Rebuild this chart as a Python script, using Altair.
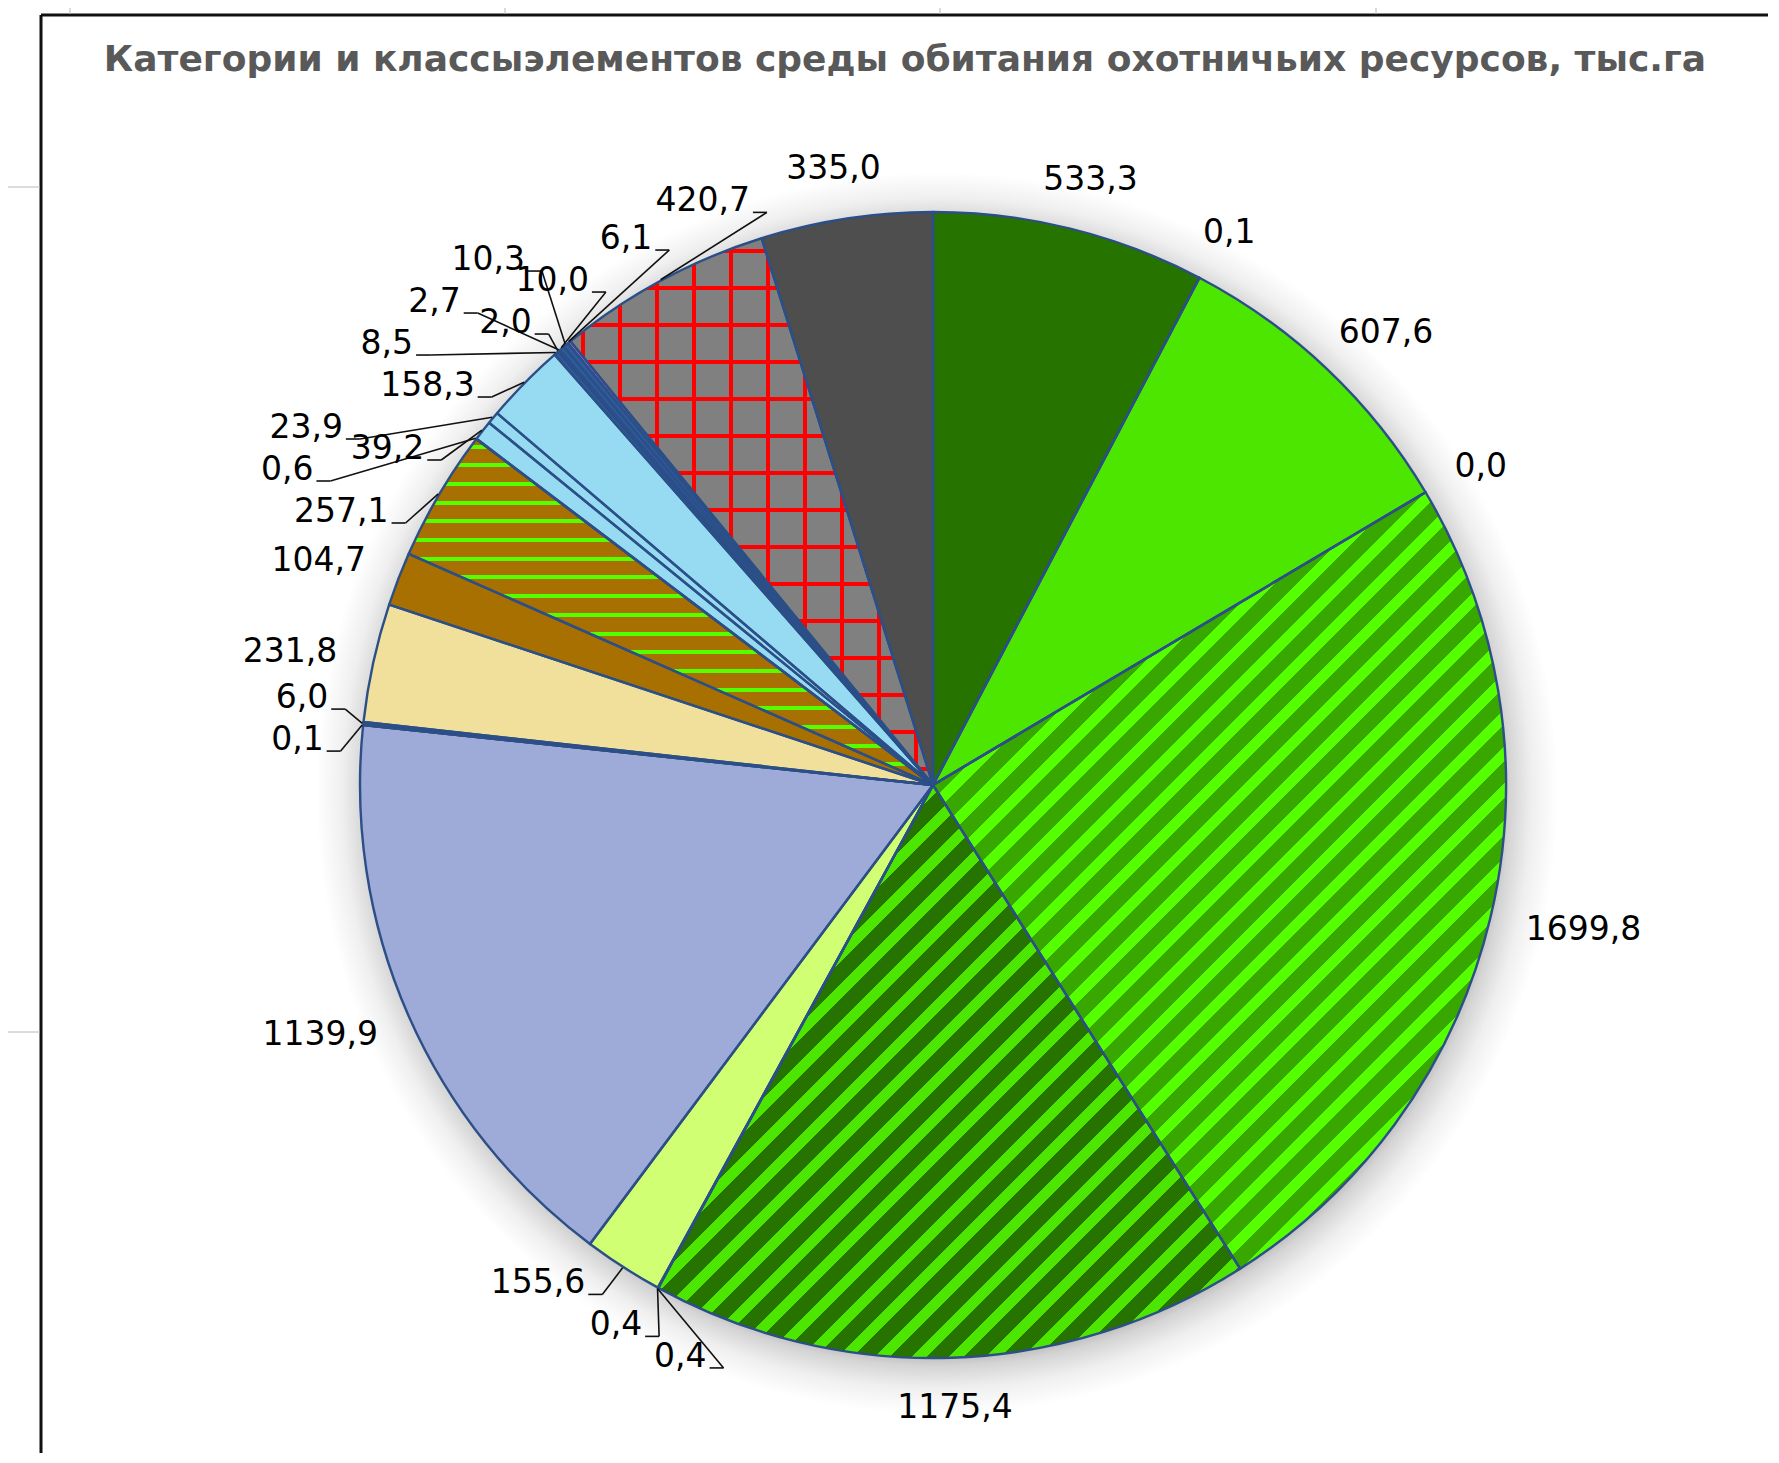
import math
import altair as alt
import pandas as pd

# ---------------- data ----------------
values = [533.3, 0.1, 607.6, 0.0, 1699.8, 1175.4, 0.4, 0.4, 155.6, 1139.9,
          0.1, 6.0, 231.8, 104.7, 257.1, 0.6, 39.2, 23.9, 158.3, 8.5,
          2.0, 2.7, 10.0, 10.3, 6.1, 420.7, 335.0]
labels = [f"{v:.1f}".replace(".", ",") for v in values]
colors = ["#267300", "#2b4f86", "#4ce600", "#2b4f86", "#38a800", "#267300",
          "#d1ff73", "#d1ff73", "#d1ff73", "#9eaad7", "#2b4f86", "#2b4f86",
          "#f0e09c", "#a87000", "#a87000", "#5ad2ff", "#97dbf2", "#97dbf2",
          "#97dbf2", "#2e5c9e", "#2e5c9e", "#2e5c9e", "#2e5c9e", "#2e5c9e",
          "#df73ff", "#808080", "#4e4e4e"]
title_text = "Категории и классыэлементов среды обитания охотничьих ресурсов, тыс.га"

# ---------------- layout constants ----------------
W, H = 1760, 1445
CX, CY, R = 925, 777, 573
FS = 33
TH = 24
STROKE = "#2b4f86"
LANE_SHIFT = 96
RA = R + 38

n = len(values)
idx = list(range(n))
df = pd.DataFrame({"idx": idx, "value": values, "label": labels})

total = sum(values)
starts, ends = [], []
c = 0.0
for v in values:
    starts.append(c / total * 2 * math.pi)
    c += v
    ends.append(c / total * 2 * math.pi)
mids = [(a + b) / 2 for a, b in zip(starts, ends)]


def text_w(s):
    return sum(0.636 * FS if ch.isdigit() else 0.318 * FS for ch in s)


widths = [text_w(s) for s in labels]

# crowded runs of labels alternate between two lanes
runs, cur = [], [0]
for i in range(1, n):
    if mids[i] - mids[i - 1] < 0.035:
        cur.append(i)
    else:
        runs.append(cur)
        cur = [i]
runs.append(cur)
lanes = [0] * n
run_id = [0] * n
for r_i, run in enumerate(runs):
    for k, i in enumerate(run):
        run_id[i] = r_i
        if len(run) >= 3:
            lanes[i] = 1 if k % 2 == 0 else 0


def separate(targets, gaps):
    m = len(targets)
    G = [0.0] * m
    for i in range(1, m):
        G[i] = G[i - 1] + gaps[i - 1]
    t = [targets[i] - G[i] for i in range(m)]
    blocks = []
    for x in t:
        blocks.append([x, 1])
        while len(blocks) > 1 and blocks[-2][0] / blocks[-2][1] > blocks[-1][0] / blocks[-1][1]:
            s, cnt = blocks.pop()
            blocks[-1][0] += s
            blocks[-1][1] += cnt
    res = []
    for s, cnt in blocks:
        res += [s / cnt] * cnt
    return [res[i] + G[i] for i in range(m)]


pos = mids[:]
DY = RA + TH / 2
for _ in range(6):
    gaps = []
    for i in range(n - 1):
        m = (pos[i] + pos[i + 1]) / 2
        cs = max(abs(math.cos(m)), 1e-6)
        sn = max(abs(math.sin(m)), 1e-6)
        wavg = (widths[i] + widths[i + 1]) / 2
        g_h = (wavg + 12) / ((RA + wavg / 2) * cs)
        g_v = (TH + 18) / (DY * sn)
        g = min(g_h, g_v)
        if run_id[i] == run_id[i + 1] and lanes[i] != lanes[i + 1]:
            g /= 2
        gaps.append(g)
    pos = separate(mids, gaps)

lab_rows, lead_rows = [], []
for i in idx:
    phi = pos[i]
    side = -1 if math.sin(phi) < 0 else 1
    lx = CX + (RA + widths[i] / 2) * math.sin(phi) + side * LANE_SHIFT * lanes[i]
    ly = CY - DY * math.cos(phi)
    lab_rows.append({"lx": lx, "ly": ly, "label": labels[i]})
    if abs(phi - mids[i]) > 0.015 or lanes[i] == 1:
        ex = CX + (R + 1) * math.sin(mids[i])
        ey = CY - (R + 1) * math.cos(mids[i])
        if side < 0:
            ax = lx + widths[i] / 2 + 3
            tx = ax + 14
        else:
            ax = lx - widths[i] / 2 - 3
            tx = ax - 14
        ay = ly + 11
        lead_rows.append({"x": ax, "y": ay, "x2": tx, "y2": ay})
        lead_rows.append({"x": tx, "y": ay, "x2": ex, "y2": ey})
lab_df = pd.DataFrame(lab_rows)
lead_df = pd.DataFrame(lead_rows)


# ---------------- pattern gradients ----------------
def sector_bbox(a0, a1, r):
    xs, ys = [0.0], [0.0]
    steps = 720
    for k in range(steps + 1):
        a = a0 + (a1 - a0) * k / steps
        xs.append(r * math.sin(a))
        ys.append(-r * math.cos(a))
    return max(xs) - min(xs), max(ys) - min(ys)


def stripe_stops(bg, fg, D, period, fw):
    st = [(0.0, bg)]
    j = 0
    while True:
        t0 = (j * period + period * 0.3) / D
        if t0 >= 1:
            break
        t1 = min(t0 + fw / D, 1.0)
        st += [(t0, bg), (t0, fg), (t1, fg), (t1, bg)]
        j += 1
    st.append((1.0, bg))
    return [alt.GradientStop(color=col, offset=round(o, 6)) for o, col in st]


def diag_grad(bg, fg, i, period, fw):
    w, h = sector_bbox(starts[i], ends[i], R)
    k = (w + h) / (w * w + h * h)
    D = (w + h) / math.sqrt(2)
    return alt.LinearGradient(gradient="linear", x1=0, y1=0, x2=k * w, y2=k * h,
                              stops=stripe_stops(bg, fg, D, period, fw))


def horiz_grad(bg, fg, i, period, fw):
    w, h = sector_bbox(starts[i], ends[i], R)
    return alt.LinearGradient(gradient="linear", x1=0, y1=0, x2=0, y2=1,
                              stops=stripe_stops(bg, fg, h, period, fw))


def vert_grad(bg, fg, i, period, fw):
    w, h = sector_bbox(starts[i], ends[i], R)
    return alt.LinearGradient(gradient="linear", x1=0, y1=0, x2=1, y2=0,
                              stops=stripe_stops(bg, fg, w, period, fw))


DIAG_P = 37 / math.sqrt(2)
patterns = [
    (4, diag_grad("#38a800", "#55ff00", 4, DIAG_P, DIAG_P * 0.42)),
    (5, diag_grad("#267300", "#4ce600", 5, DIAG_P, DIAG_P * 0.42)),
    (14, horiz_grad("#a87000", "#55ff00", 14, 18.7, 4)),
    (25, vert_grad("#808080", "#ff0000", 25, 37, 3.5)),
    (25, horiz_grad("rgba(255,0,0,0)", "#ff0000", 25, 37, 3.5)),
]

base_enc = dict(
    theta=alt.Theta("value:Q", stack=True),
    order=alt.Order("idx:Q"),
    detail="idx:N",
    x=alt.value(CX),
    y=alt.value(CY),
)

# ---------------- layers ----------------
RS = R + 48
shadow = alt.Chart(pd.DataFrame({"a": [1]})).mark_arc(
    theta=0, theta2=2 * math.pi, radius=RS,
    fill=alt.RadialGradient(
        gradient="radial", x1=0.5, y1=0.5, r1=0, x2=0.5, y2=0.5, r2=0.5,
        stops=[alt.GradientStop(color="#a8a8a8", offset=0),
               alt.GradientStop(color="#a8a8a8", offset=round((R - 20) / RS, 4)),
               alt.GradientStop(color="#d4d4d4", offset=round(R / RS, 4)),
               alt.GradientStop(color="#efefef", offset=round((R + 22) / RS, 4)),
               alt.GradientStop(color="#ffffff", offset=1)])
).encode(x=alt.value(CX + 4), y=alt.value(CY + 8))

base = alt.Chart(df).mark_arc(radius=R).encode(
    color=alt.Color("idx:N", scale=alt.Scale(domain=idx, range=colors), legend=None),
    **base_enc,
)

overlays = []
for i, grad in patterns:
    overlays.append(
        alt.Chart(df).mark_arc(radius=R, fill=grad).encode(
            opacity=alt.condition(f"datum.idx == {i}", alt.value(1), alt.value(0)),
            **base_enc,
        )
    )

outline = alt.Chart(df).mark_arc(
    radius=R, fill="#000000", fillOpacity=0, stroke=STROKE, strokeWidth=2.4, strokeJoin="round"
).encode(**base_enc)

leaders = alt.Chart(lead_df).mark_rule(color="#111111", strokeWidth=1.6).encode(
    x=alt.X("x:Q", scale=None, axis=None),
    y=alt.Y("y:Q", scale=None, axis=None),
    x2="x2:Q",
    y2="y2:Q",
)

texts = alt.Chart(lab_df).mark_text(
    font="DejaVu Sans", fontSize=FS, color="#000000", align="center", baseline="middle"
).encode(
    x=alt.X("lx:Q", scale=None, axis=None),
    y=alt.Y("ly:Q", scale=None, axis=None),
    text="label:N",
)

one = pd.DataFrame({"a": [1]})
title = alt.Chart(one).mark_text(
    font="DejaVu Sans", fontSize=36, fontWeight="bold", color="#595959",
    align="center", baseline="middle"
).encode(x=alt.value(897), y=alt.value(52), text=alt.value(title_text))

frame_left = alt.Chart(one).mark_rule(color="#111111", strokeWidth=3).encode(
    x=alt.value(33), y=alt.value(7), y2=alt.value(H))
frame_top = alt.Chart(one).mark_rule(color="#111111", strokeWidth=3).encode(
    x=alt.value(33), x2=alt.value(W), y=alt.value(7))

grid_rules = []
for gx in [62, 497, 932, 1368]:
    grid_rules.append(alt.Chart(one).mark_rule(color="#b8b8b8", strokeWidth=1).encode(
        x=alt.value(gx), y=alt.value(0), y2=alt.value(6)))
for gy in [179, 1024]:
    grid_rules.append(alt.Chart(one).mark_rule(color="#b8b8b8", strokeWidth=1).encode(
        x=alt.value(0), x2=alt.value(32), y=alt.value(gy)))

chart = alt.layer(
    shadow, base, *overlays, outline, leaders, texts, title,
    frame_left, frame_top, *grid_rules
).properties(
    width=W, height=H, padding=0, autosize=alt.AutoSizeParams(type="none")
).configure_view(stroke=None)

chart.save("out.html", embed_options={"renderer": "svg", "actions": False})
